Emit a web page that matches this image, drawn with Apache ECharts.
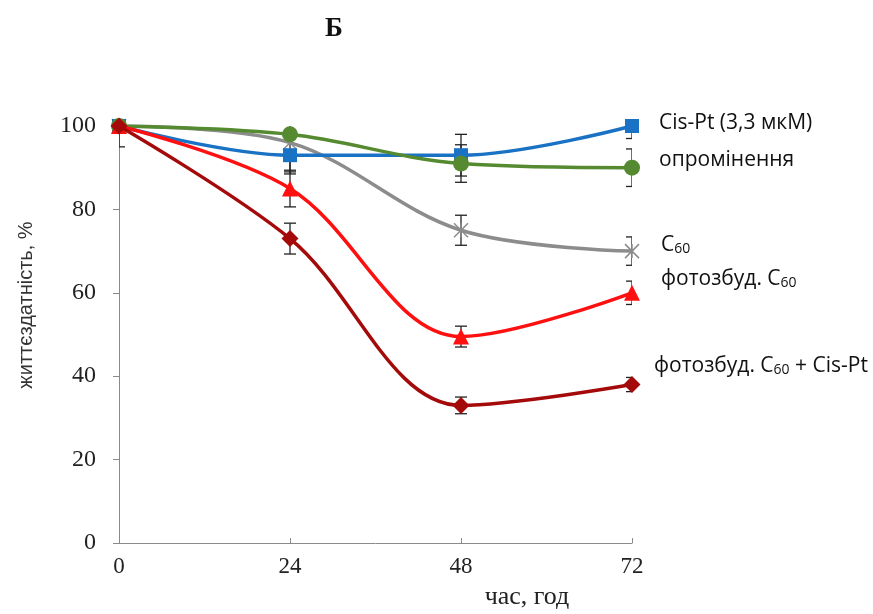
<!DOCTYPE html>
<html>
<head>
<meta charset="utf-8">
<script src="https://cdn.jsdelivr.net/npm/echarts@6/dist/echarts.min.js"></script>
<style>html,body{margin:0;padding:0;background:#fff}#c{width:873px;height:614px}</style>
</head>
<body>
<div id="c"></div>
<script>
const hours = [0, 24, 48, 72];
const yTicks = [0, 20, 40, 60, 80, 100];
const cisPt = [100, 93, 93, 100];
const cisPtErr = [0, 4, 5, 3];
const irradiation = [100, 98, 91, 90];
const irradiationErr = [0, 1, 4.5, 4.5];
const c60 = [100, 96, 75, 70];
const c60Err = [5, 7.5, 3.6, 3.4];
const photoC60 = [100, 85, 49.5, 60];
const photoC60Err = [0, 4.4, 2.5, 2.8];
const photoC60CisPt = [100, 73, 33, 38];
const photoC60CisPtErr = [0, 3.7, 2, 1.7];

const chart = echarts.init(document.getElementById('c'));

function pairs(vals) { return hours.map((h, i) => [h, vals[i]]); }
function errData(vals, errs) { return hours.map((h, i) => [h, vals[i] - errs[i], Math.min(100, vals[i] + errs[i])]); }

function errSeries(vals, errs) {
  return {
    type: 'custom',
    data: errData(vals, errs),
    z: 1,
    silent: true,
    clip: true,
    renderItem: function (params, api) {
      const x = api.value(0);
      const lo = api.coord([x, api.value(1)]);
      const hi = api.coord([x, api.value(2)]);
      if (Math.abs(lo[1] - hi[1]) < 0.5) return null;
      const w = 6;
      const st = { stroke: '#222', lineWidth: 1.3 };
      const children = [
        { type: 'line', shape: { x1: lo[0], y1: lo[1], x2: hi[0], y2: hi[1] }, style: st },
        { type: 'line', shape: { x1: lo[0] - w, y1: lo[1], x2: lo[0] + w, y2: lo[1] }, style: st }
      ];
      if (api.value(2) < 100) {
        children.push({ type: 'line', shape: { x1: hi[0] - w, y1: hi[1], x2: hi[0] + w, y2: hi[1] }, style: st });
      }
      return { type: 'group', children: children };
    }
  };
}

function lineSeries(name, vals, color, symbol, size, z, extraItem) {
  return {
    name: name,
    type: 'line',
    data: pairs(vals),
    smooth: 0.35,
    symbol: symbol,
    symbolSize: size,
    z: z,
    lineStyle: { color: color, width: 3.5 },
    itemStyle: Object.assign({ color: color }, extraItem || {})
  };
}

const labelFont = '"Open Sans", "Liberation Sans", sans-serif';
const rich = {
  n: { fontFamily: labelFont, fontSize: 21, color: '#111', lineHeight: 27, verticalAlign: 'bottom' },
  s: { fontFamily: labelFont, fontSize: 14, color: '#111', lineHeight: 24, verticalAlign: 'bottom' }
};
function lbl(text, x, y) {
  return { type: 'text', left: x, top: y - 15, style: { text: text, rich: rich, fill: '#111' } };
}

chart.setOption({
  animation: false,
  backgroundColor: '#fff',
  grid: { left: 119, right: 241, top: 126, bottom: 71 },
  xAxis: {
    type: 'value', min: 0, max: 72, interval: 24,
    axisLine: { lineStyle: { color: '#8a8a8a', width: 1 } },
    axisTick: { show: true, inside: true, length: 5, lineStyle: { color: '#8a8a8a' } },
    splitLine: { show: false },
    axisLabel: { fontFamily: '"Liberation Serif", serif', fontSize: 23, color: '#222', margin: 12 }
  },
  yAxis: {
    type: 'value', min: 0, max: 100, interval: 20,
    axisLine: { show: true, lineStyle: { color: '#8a8a8a', width: 1 } },
    axisTick: { show: true, length: 6, lineStyle: { color: '#8a8a8a' } },
    splitLine: { show: false },
    axisLabel: { fontFamily: '"Liberation Serif", serif', fontSize: 24, color: '#222', margin: 23,
      formatter: function (v) { return yTicks.indexOf(v) >= 0 ? String(v) : ''; } }
  },
  series: [
    errSeries(cisPt, cisPtErr),
    errSeries(irradiation, irradiationErr),
    errSeries(c60, c60Err),
    errSeries(photoC60, photoC60Err),
    errSeries(photoC60CisPt, photoC60CisPtErr),
    lineSeries('C60', c60, '#8c8c8c', 'path://M0,0L10,10M10,0L0,10M5,0L5,10', 14, 3,
      { borderColor: '#8c8c8c', borderWidth: 1.5, color: 'none' }),
    lineSeries('Cis-Pt (3,3 мкМ)', cisPt, '#1a72c4', 'rect', 14, 4),
    lineSeries('опромінення', irradiation, '#558a30', 'circle', 16, 5),
    lineSeries('фотозбуд. C60', photoC60, '#ff1010', 'triangle', 16, 6),
    lineSeries('фотозбуд. C60 + Cis-Pt', photoC60CisPt, '#a50a0a', 'diamond', 17, 7)
  ],
  graphic: [
    { type: 'text', left: 325, top: 16, style: { text: 'Б', fontFamily: '"Liberation Serif", serif', fontWeight: 'bold', fontSize: 27, fill: '#111' } },
    { type: 'text', x: 527, y: 597, style: { text: 'час, год', align: 'center', verticalAlign: 'middle', fontFamily: '"Liberation Serif", serif', fontSize: 26, fill: '#222' } },
    { type: 'text', x: 26, y: 305, rotation: Math.PI / 2, style: { text: 'життєздатність, %', align: 'center', verticalAlign: 'middle', fontFamily: '"Liberation Sans", sans-serif', fontSize: 20, fill: '#333' } },
    lbl('{n|Cis-Pt (3,3 мкМ)}', 659, 128),
    lbl('{n|опромінення}', 659, 165),
    lbl('{n|C}{s|60}', 661, 250),
    lbl('{n|фотозбуд. C}{s|60}', 661, 284),
    lbl('{n|фотозбуд. C}{s|60}{n| + Cis-Pt}', 654, 371)
  ]
});
</script>
</body>
</html>
